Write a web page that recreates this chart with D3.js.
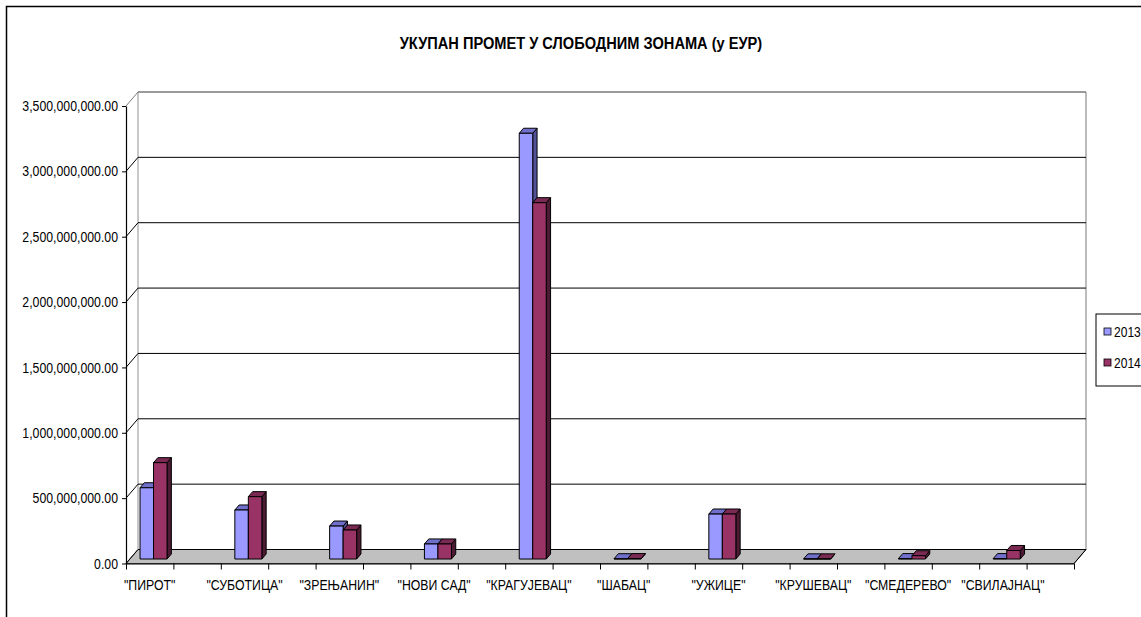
<!DOCTYPE html>
<html>
<head>
<meta charset="utf-8">
<script src="https://cdn.jsdelivr.net/npm/d3@7"></script>
<style>
  body { margin: 0; background: #fff; }
  text { font-family: "Liberation Sans", Arial, sans-serif; }
</style>
</head>
<body>
<svg id="chart" width="1141" height="617"></svg>
<script>
// data
const categories = ['"ПИРОТ"', '"СУБОТИЦА"', '"ЗРЕЊАНИН"', '"НОВИ САД"', '"КРАГУЈЕВАЦ"',
  '"ШАБАЦ"', '"УЖИЦЕ"', '"КРУШЕВАЦ"', '"СМЕДЕРЕВО"', '"СВИЛАЈНАЦ"'];
const years = ["2013", "2014"];
const values2013 = [545e6, 375e6, 252e6, 115e6, 3257e6, 2e6, 344e6, 1e6, 3e6, 3e6];
const values2014 = [737e6, 477e6, 222e6, 115e6, 2726e6, 3e6, 344e6, 1e6, 25e6, 65e6];
const yTicks = [0, 5e8, 1e9, 1.5e9, 2e9, 2.5e9, 3e9, 3.5e9];

const colors = {
  "2013": { front: "#9999FF", top: "#7070CC", side: "#52529A" },
  "2014": { front: "#993366", top: "#7A2952", side: "#4D1A33" }
};

// the original uses a narrow face; squeeze the regular one
const SQ = 0.86;

const svg = d3.select("#chart");

// outer frame
svg.append("rect")
  .attr("x", 6.5).attr("y", 6.5)
  .attr("width", 1200).attr("height", 700)
  .attr("fill", "none").attr("stroke", "#000").attr("stroke-width", 1.5);

svg.append("text")
  .attr("transform", `translate(581,49) scale(${SQ},1)`)
  .attr("text-anchor", "middle")
  .style("font-size", "17px").style("font-weight", "bold")
  .text("УКУПАН ПРОМЕТ У СЛОБОДНИМ ЗОНАМА (у ЕУР)");

// 3d depth vector (front plane -> back wall)
const DX = 12, DY = -14;
const plotLeft = 126, plotRight = 1074, plotBottom = 563.5, plotTop = 106;

// every category takes two slots, the second one is empty
const slots = d3.range(categories.length * 2);
const x = d3.scaleBand().domain(slots).range([plotLeft, plotRight]);
const xs = d3.scaleBand().domain(years).range([0, x.bandwidth()]).paddingOuter(0.755);
const y = d3.scaleLinear().domain([0, 3.5e9]).range([plotBottom, plotTop]);
const xLin = d3.scaleLinear().domain([0, slots.length]).range([plotLeft, plotRight]);

const P = (px, py, d) => [px + DX * d, py + DY * d];
const poly = pts => pts.map(p => p.join(",")).join(" ");

// floor
svg.append("polygon")
  .attr("points", poly([P(plotLeft, plotBottom, 0), P(plotRight, plotBottom, 0),
    P(plotRight, plotBottom, 1), P(plotLeft, plotBottom, 1)]))
  .attr("fill", "#C0C0C0").attr("stroke", "#404040").attr("stroke-width", 1);

// wall edges
svg.append("line")
  .attr("x1", plotLeft + DX).attr("x2", plotLeft + DX)
  .attr("y1", y(3.5e9) + DY).attr("y2", plotBottom + DY)
  .attr("stroke", "#909090").attr("stroke-width", 1);
svg.append("line")
  .attr("x1", plotRight + DX).attr("x2", plotRight + DX)
  .attr("y1", y(3.5e9) + DY).attr("y2", plotBottom + DY)
  .attr("stroke", "#909090").attr("stroke-width", 1.2);

// gridlines on back and left walls
const grid = svg.append("g");
grid.selectAll(".back")
  .data(yTicks)
  .enter().append("line")
  .attr("x1", plotLeft + DX).attr("x2", plotRight + DX)
  .attr("y1", d => y(d) + DY).attr("y2", d => y(d) + DY)
  .attr("stroke", d => d === 3.5e9 ? "#7a7a7a" : "#000")
  .attr("stroke-width", d => d === 3.5e9 ? 1.5 : 1);
grid.selectAll(".side")
  .data(yTicks)
  .enter().append("line")
  .attr("x1", plotLeft).attr("x2", plotLeft + DX)
  .attr("y1", d => y(d)).attr("y2", d => y(d) + DY)
  .attr("stroke", d => d === 3.5e9 ? "#7a7a7a" : "#000")
  .attr("stroke-width", 1);
svg.append("line")
  .attr("x1", plotRight).attr("x2", plotRight + DX)
  .attr("y1", plotBottom).attr("y2", plotBottom + DY)
  .attr("stroke", "#000");

// bars
const d1 = 0.32, d2 = 0.68;
const rows = categories.map((c, i) => ({ i, vals: [values2013[i], values2014[i]] }));

const barG = svg.append("g");
rows.forEach(r => {
  years.forEach((yr, k) => {
    const v = r.vals[k];
    const x0 = x(r.i * 2) + xs(yr), x1 = x0 + xs.bandwidth();
    const yv = y(v);
    const g = barG.append("g")
      .attr("stroke", "#000").attr("stroke-width", 1).attr("stroke-linejoin", "round");
    g.append("polygon")
      .attr("points", poly([P(x1, yv, d1), P(x1, plotBottom, d1), P(x1, plotBottom, d2), P(x1, yv, d2)]))
      .attr("fill", colors[yr].side);
    g.append("polygon")
      .attr("points", poly([P(x0, yv, d1), P(x1, yv, d1), P(x1, yv, d2), P(x0, yv, d2)]))
      .attr("fill", colors[yr].top);
    g.append("polygon")
      .attr("points", poly([P(x0, yv, d1), P(x1, yv, d1), P(x1, plotBottom, d1), P(x0, plotBottom, d1)]))
      .attr("fill", colors[yr].front);
  });
});

// y axis
const yAxis = svg.append("g")
  .attr("transform", `translate(${plotLeft},0)`)
  .call(d3.axisLeft(y).tickValues(yTicks).tickFormat(d3.format(",.2f")).tickSize(4).tickSizeOuter(0));
yAxis.select(".domain").attr("stroke", "#000").attr("stroke-width", 1.2);
yAxis.selectAll("text")
  .style("font-size", "14.3px").attr("fill", "#000")
  .attr("x", -8 / SQ).attr("transform", `scale(${SQ},1)`);

// x axis: tick marks at slot edges, labels at the named slots
const xTickG = svg.append("g")
  .attr("transform", `translate(0,${plotBottom})`)
  .call(d3.axisBottom(xLin).ticks(slots.length).tickFormat("").tickSize(6).tickSizeOuter(0));
xTickG.select(".domain").attr("stroke", "#000").attr("stroke-width", 1.2);

const xLabelG = svg.append("g")
  .attr("transform", `translate(0,${plotBottom})`)
  .call(d3.axisBottom(x).tickSize(0).tickPadding(16)
    .tickFormat(i => i % 2 === 0 ? categories[i / 2] : ""));
xLabelG.select(".domain").remove();
xLabelG.selectAll("text")
  .style("font-size", "14.3px").attr("fill", "#000")
  .attr("transform", `scale(${SQ},1)`);

// legend
const legend = svg.append("g").attr("transform", "translate(1096,314)");
legend.append("rect")
  .attr("width", 80).attr("height", 72)
  .attr("fill", "#fff").attr("stroke", "#000").attr("stroke-width", 1);
legend.selectAll(".item")
  .data(years)
  .enter().append("g")
  .attr("transform", (d, i) => `translate(8,${18 + i * 31})`)
  .each(function (d) {
    const g = d3.select(this);
    g.append("rect").attr("x", 0).attr("y", -4).attr("width", 7).attr("height", 7)
      .attr("fill", colors[d].front).attr("stroke", "#000").attr("stroke-width", 0.8);
    g.append("text").attr("transform", `translate(10,5) scale(${SQ},1)`)
      .style("font-size", "14px").text(d);
  });
</script>
</body>
</html>
